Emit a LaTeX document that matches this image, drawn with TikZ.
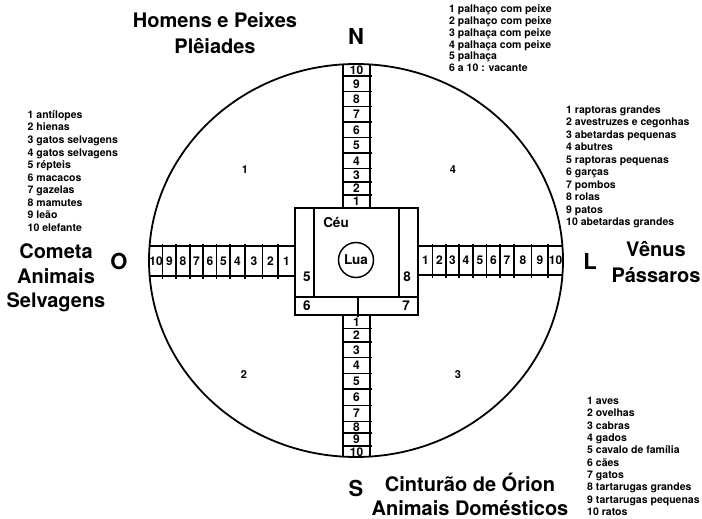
\documentclass[tikz,border=0pt]{standalone}
\usepackage{fontspec}
\setmainfont{TeX Gyre Heros}
\begin{document}
\begin{tikzpicture}[x=1pt,y=-1pt,
  big/.style={font=\fontsize{20}{23}\selectfont\bfseries, inner sep=0pt, anchor=base},
  dirl/.style={font=\fontsize{22}{25}\selectfont\bfseries, inner sep=0pt, anchor=base},
  lst/.style={font=\fontsize{10.5}{12}\selectfont\bfseries, inner sep=0pt, anchor=base west},
  cell/.style={font=\fontsize{12}{13}\selectfont\bfseries, inner sep=0pt},
  ctr/.style={font=\fontsize{13.5}{15}\selectfont\bfseries, inner sep=0pt},
  quad/.style={font=\fontsize{11}{12}\selectfont\bfseries, inner sep=0pt},
  ln/.style={line width=1.5pt}]
\useasboundingbox (0,0) rectangle (702,519);
% outer circle
\draw[line width=1.8pt] (356,260.5) ellipse [x radius=207pt, y radius=196.5pt];
% centre square
\draw[ln] (295,208) rectangle (418,315);
\draw[ln] (314,208) -- (314,297) (399,208) -- (399,297) (295,297) -- (418,297) (358,297) -- (358,317);
\draw[ln] (356,260) circle [radius=17.5pt];
\node[ctr] (ceu) at (336,223) {Céu};
\node[ctr] (lua) at (356,260) {Lua};
\node[ctr] (c5) at (307,277) {5};
\node[ctr] (c8) at (407,277) {8};
\node[ctr] (c6) at (307,306) {6};
\node[ctr] (c7) at (406,306) {7};
% north arm
\draw[ln] (343,64.6) -- (343,208) (370,64.6) -- (370,208);
\foreach \y in {76,91.5,106.5,122,137.5,153,168.5,182,195}
  \draw[ln] (341.5,\y) -- (371.5,\y);
\foreach \a/\b/\t in {64.4/76/10,76/91.5/9,91.5/106.5/8,106.5/122/7,122/137.5/6,137.5/153/5,153/168.5/4,168.5/182/3,182/195/2,195/208/1}
  \node[cell] (n\t) at (356.5,{(\a+\b)/2}) {\t};
% south arm
\draw[ln] (343,315) -- (343,456.6) (370,315) -- (370,456.6);
\foreach \y in {328.5,342,357.5,373.5,389,405.5,421.5,433,446}
  \draw[ln] (341.5,\y) -- (371.5,\y);
\foreach \a/\b/\t in {315/328.5/1,328.5/342/2,342/357.5/3,357.5/373.5/4,373.5/389/5,389/405.5/6,405.5/421.5/7,421.5/433/8,433/446/9,446/458/10}
  \node[cell] (s\t) at (356.5,{(\a+\b)/2}) {\t};
% west arm
\draw[ln] (149.6,246) -- (295,246) (149.6,276) -- (295,276);
\foreach \x in {162.7,176,190,203,216.7,230,245,262.7,278}
  \draw[ln] (\x,244) -- (\x,279);
\foreach \a/\b/\t in {149.6/162.7/10,162.7/176/9,176/190/8,190/203/7,203/216.7/6,216.7/230/5,230/245/4,245/262.7/3,262.7/278/2,278/295/1}
  \node[cell] (w\t) at ({(\a+\b)/2},261) {\t};
% east arm
\draw[ln] (418,246) -- (562.4,246) (418,275) -- (562.4,275);
\foreach \x in {432.7,446,459,473,486.7,500,514,531.7,548}
  \draw[ln] (\x,244) -- (\x,278);
\foreach \a/\b/\t in {418/432.7/1,432.7/446/2,446/459/3,459/473/4,473/486.7/5,486.7/500/6,500/514/7,514/531.7/8,531.7/548/9,548/563/10}
  \node[cell] (e\t) at ({(\a+\b)/2},260.5) {\t};
% quadrant numbers
\node[quad] (q1) at (245,170) {1};
\node[quad] (q4) at (453,170) {4};
\node[quad] (q2) at (244,375) {2};
\node[quad] (q3) at (458,375) {3};
% cardinal letters
\node[dirl] (dN) at (356,45) {N};
\node[dirl] (dS) at (356,496) {S};
\node[dirl] (dO) at (119,269) {O};
\node[dirl] (dL) at (590,269) {L};
% titles
\node[big] (t1a) at (215,28) {Homens e Peixes};
\node[big] (t1b) at (215,54) {Plêiades};
\node[big] (t2a) at (56,258) {Cometa};
\node[big] (t2b) at (56,283) {Animais};
\node[big] (t2c) at (56,307) {Selvagens};
\node[big] (t3a) at (656,256) {Vênus};
\node[big] (t3b) at (656,282) {Pássaros};
\node[big] (t4a) at (470,491) {Cinturão de Órion};
\node[big] (t4b) at (470,515) {Animais Domésticos};
% lists
\foreach \t [count=\i] in {{1 palhaço com peixe},{2 palhaço com peixe},{3 palhaça com peixe},{4 palhaça com peixe},{5 palhaça},{6 a 10 : vacante}}
  \node[lst] (ln\i) at (449,{12.7+11.8*(\i-1)}) {\t};
\foreach \t [count=\i] in {{1 antílopes},{2 hienas},{3 gatos selvagens},{4 gatos selvagens},{5 répteis},{6 macacos},{7 gazelas},{8 mamutes},{9 leão},{10 elefante}}
  \node[lst] (lw\i) at (27.5,{118.4+12.55*(\i-1)}) {\t};
\foreach \t [count=\i] in {{1 raptoras grandes},{2 avestruzes e cegonhas},{3 abetardas pequenas},{4 abutres},{5 raptoras pequenas},{6 garças},{7 pombos},{8 rolas},{9 patos},{10 abetardas grandes}}
  \node[lst] (le\i) at (566,{113.4+12.45*(\i-1)}) {\t};
\foreach \t [count=\i] in {{1 aves},{2 ovelhas},{3 cabras},{4 gados},{5 cavalo de família},{6 cães},{7 gatos},{8 tartarugas grandes},{9 tartarugas pequenas},{10 ratos}}
  \node[lst] (ls\i) at (587,{404.4+12.33*(\i-1)}) {\t};
\end{tikzpicture}
\end{document}
